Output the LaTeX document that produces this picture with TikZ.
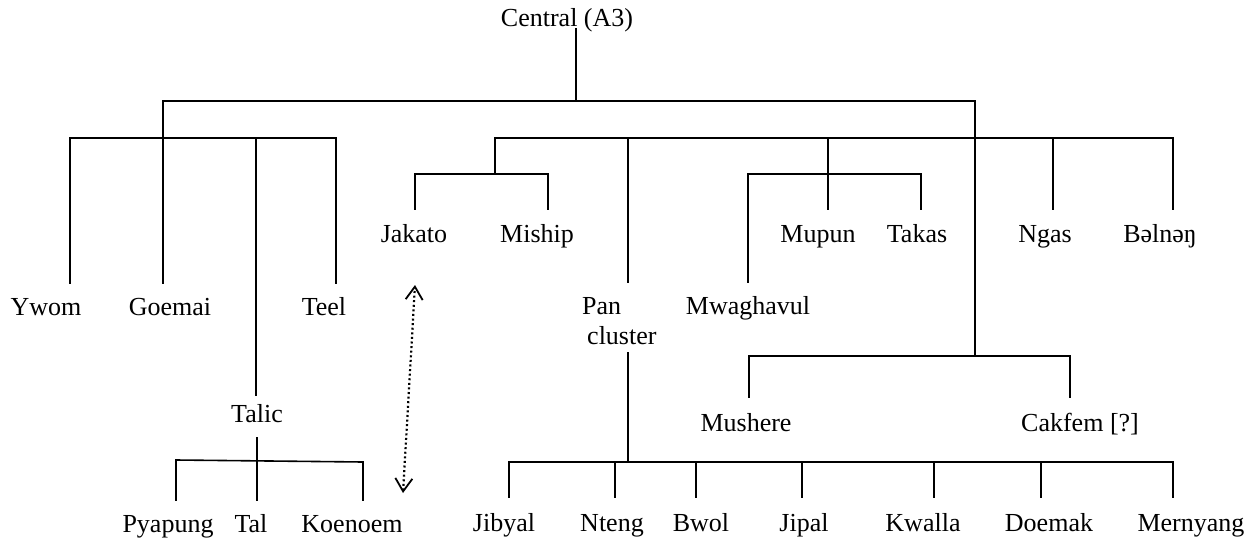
\documentclass[tikz,border=0pt]{standalone}
\usepackage{fontspec}
\setmainfont{Liberation Serif}
\usetikzlibrary{arrows.meta}
\begin{document}
\begin{tikzpicture}[x=1pt,y=-1pt,
  lbl/.style={anchor=base,inner sep=0pt,font=\fontsize{26}{30}\selectfont},
  lbll/.style={anchor=base west,inner sep=0pt,font=\fontsize{26}{30}\selectfont},
  edge/.style={line width=1.6pt,line cap=rect},
  dotarrow/.style={line width=2.2pt,dash pattern=on 2pt off 2.6pt,
     {Straight Barb[length=13pt,width=17pt,line width=1.8pt]}-{Straight Barb[length=13pt,width=17pt,line width=1.8pt]}}]
\useasboundingbox (0,0) rectangle (1260,543);
% labels
\node[lbl] (central) at (567,27) {Central (A3)};
\node[lbl] (ywom) at (46,315) {Ywom};
\node[lbl] (goemai) at (170,315) {Goemai};
\node[lbl] (teel) at (324,315) {Teel};
\node[lbl] (talic) at (257,422) {Talic};
\node[lbl] (pyapung) at (168,532) {Pyapung};
\node[lbl] (tal) at (251,532) {Tal};
\node[lbl] (koenoem) at (352,532) {Koenoem};
\node[lbl] (jakato) at (414,242) {Jakato};
\node[lbl] (miship) at (537,242) {Miship};
\node[lbl] (mupun) at (818,242) {Mupun};
\node[lbl] (takas) at (917,242) {Takas};
\node[lbl] (ngas) at (1045,242) {Ngas};
\node[lbl] (belneng) at (1160,242) {Bəlnəŋ};
\node[lbll] (pan) at (582,314) {Pan};
\node[lbll] (cluster) at (587,344) {cluster};
\node[lbl] (mwaghavul) at (748,314) {Mwaghavul};
\node[lbl] (mushere) at (746,431) {Mushere};
\node[lbl] (cakfem) at (1080,431) {Cakfem [?]};
\node[lbl] (jibyal) at (504,531) {Jibyal};
\node[lbl] (nteng) at (612,531) {Nteng};
\node[lbl] (bwol) at (701,531) {Bwol};
\node[lbl] (jipal) at (804,531) {Jipal};
\node[lbl] (kwalla) at (923,531) {Kwalla};
\node[lbl] (doemak) at (1049,531) {Doemak};
\node[lbl] (mernyang) at (1191,531) {Mernyang};
% junction coordinates
\coordinate (c0) at (576,29);
\coordinate (c1) at (576,101);
\coordinate (tl) at (163,101);
\coordinate (tr) at (975,101);
\coordinate (ljun) at (163,138);
\coordinate (rjun) at (975,138);
% tops of leaf lines
\coordinate (ywomT) at (70,283);
\coordinate (goemaiT) at (163,283);
\coordinate (talicT) at (256,395);
\coordinate (teelT) at (336,283);
\coordinate (talicB) at (257,438);
\coordinate (pyapungT) at (176,500);
\coordinate (talT) at (257,500);
\coordinate (koenoemT) at (363,500);
\coordinate (pyJ) at (176,460);
\coordinate (koJ) at (363,462);
\coordinate (jmJ) at (495,174);
\coordinate (jakatoT) at (415,209);
\coordinate (mishipT) at (548,209);
\coordinate (panT) at (628,282);
\coordinate (panB) at (628,353);
\coordinate (panJ) at (628,462);
\coordinate (jibyalT) at (509,497);
\coordinate (ntengT) at (615,497);
\coordinate (bwolT) at (696,497);
\coordinate (jipalT) at (802,497);
\coordinate (kwallaT) at (934,497);
\coordinate (doemakT) at (1041,497);
\coordinate (mernyangT) at (1173,497);
\coordinate (mwJ) at (828,174);
\coordinate (mwaghavulT) at (748,282);
\coordinate (mupunT) at (828,209);
\coordinate (takasT) at (921,209);
\coordinate (mcJ) at (975,356);
\coordinate (mushereT) at (749,397);
\coordinate (cakfemT) at (1070,397);
\coordinate (ngasT) at (1053,209);
\coordinate (belnengT) at (1173,209);
% tree lines
\draw[edge] (c0) -- (c1);
\draw[edge] (tl) -- (tr);
\draw[edge] (tl) -- (ljun);
\draw[edge] (ywomT) |- (ljun) -| (teelT);
\draw[edge] (ljun) -- (goemaiT);
\draw[edge] (talicT |- ljun) -- (talicT);
\draw[edge] (talicB) -- (talT);
\draw[edge] (pyapungT) -- (pyJ) -- (koJ) -- (koenoemT);
\draw[edge] (tr) -- (rjun);
\draw[edge] (jmJ |- rjun) -- (belnengT |- rjun) -- (belnengT);
\draw[edge] (jmJ |- rjun) -- (jmJ);
\draw[edge] (jakatoT) |- (jmJ) -| (mishipT);
\draw[edge] (panT |- rjun) -- (panT);
\draw[edge] (panB) -- (panJ);
\draw[edge] (jibyalT) |- (panJ) -| (mernyangT);
\foreach \n in {ntengT,bwolT,jipalT,kwallaT,doemakT} \draw[edge] (\n |- panJ) -- (\n);
\draw[edge] (mwJ |- rjun) -- (mupunT);
\draw[edge] (mwaghavulT) |- (mwJ) -| (takasT);
\draw[edge] (rjun) -- (mcJ);
\draw[edge] (mushereT) |- (mcJ) -| (cakfemT);
\draw[edge] (ngasT |- rjun) -- (ngasT);
% dotted double arrow
\coordinate (arrB) at (403,493);
\coordinate (arrT) at (415,285);
\draw[dotarrow] (arrB) -- (arrT);
\end{tikzpicture}
\end{document}
